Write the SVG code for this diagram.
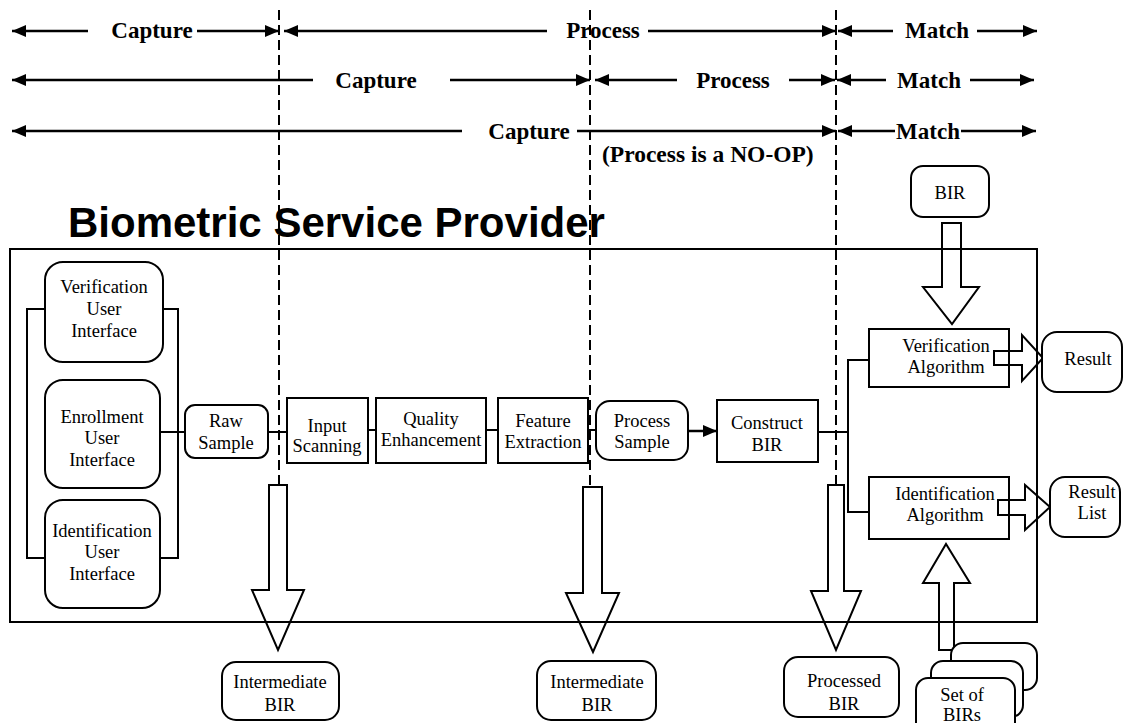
<svg xmlns="http://www.w3.org/2000/svg" width="1124" height="723" viewBox="0 0 1124 723">
<defs>
<marker id="ah" viewBox="0 0 14 12" refX="14" refY="6" markerWidth="14" markerHeight="12" markerUnits="userSpaceOnUse" orient="auto"><path d="M0,0 L14,6 L0,12 Z" fill="#000"/></marker>
<style>
.hdr{font-family:"Liberation Serif",serif;font-weight:bold;font-size:23px;fill:#000;text-anchor:middle}
.lbl{font-family:"Liberation Serif",serif;font-size:18.5px;fill:#000;text-anchor:middle}
.hl{stroke:#000;stroke-width:2.5;fill:none;marker-end:url(#ah)}
.box{fill:#fff;stroke:#000;stroke-width:2}
.ln{stroke:#000;stroke-width:2;fill:none}
.blk{fill:none;stroke:#000;stroke-width:2;stroke-linejoin:miter}
.dash{stroke:#000;stroke-width:2;stroke-dasharray:10,5;fill:none}
</style>
</defs>
<rect width="1124" height="723" fill="#fff"/>

<g id="phase-headers">
<path class="hl" d="M88,31 H12"/><path class="hl" d="M197,31 H279"/><path class="hl" d="M547,31 H284"/><path class="hl" d="M648,31 H836"/><path class="hl" d="M893,31 H838"/><path class="hl" d="M977,31 H1037"/>
<text class="hdr" x="152" y="38">Capture</text><text class="hdr" x="603" y="38">Process</text><text class="hdr" x="937" y="38">Match</text>
<path class="hl" d="M313,80 H12"/><path class="hl" d="M450,80 H590"/><path class="hl" d="M677,80 H595"/><path class="hl" d="M789,80 H835"/><path class="hl" d="M886,80 H837"/><path class="hl" d="M970,80 H1034"/>
<text class="hdr" x="376" y="88">Capture</text><text class="hdr" x="733" y="88">Process</text><text class="hdr" x="929" y="88">Match</text>
<path class="hl" d="M462,131 H12"/><path class="hl" d="M577,131 H836"/><path class="hl" d="M895,131 H838"/><path class="hl" d="M961,131 H1036"/>
<text class="hdr" x="529" y="139">Capture</text><text class="hdr" x="928" y="139">Match</text>
<text class="hdr" x="602" y="162" style="text-anchor:start;font-size:23.5px">(Process is a NO-OP)</text>
</g>

<g id="bsp">
<rect x="10" y="249" width="1027" height="373" fill="none" stroke="#000" stroke-width="2"/>
<text x="68" y="237" font-family="'Liberation Sans',Arial,sans-serif" font-weight="bold" font-size="42" fill="#000">Biometric Service Provider</text>
</g>

<g id="connectors">
<path class="ln" d="M45,309 H27 V558 H45"/>
<path class="ln" d="M163,309 H178 V558 H160"/>
<path class="ln" d="M160,432 H185"/>
<path class="ln" d="M268,432 H287"/>
<path class="ln" d="M368,430 H376"/>
<path class="ln" d="M486,430 H498"/>
<path class="ln" d="M588,430 H596"/>
<path class="ln" d="M688,431 H717" style="stroke-width:2.5;marker-end:url(#ah)"/>
<path class="ln" d="M818,432 H848 M869,360 H848 V512 H869"/>
<path class="blk" d="M942,223 H961 V287 H979 L952,324 L923,287 H942 Z"/>
<path class="blk" d="M994,351 H1022 V335 L1043,358 L1022,381 V365 H994 Z"/>
<path class="blk" d="M998,500 H1025 V485 L1050,507 L1025,530 V515 H998 Z"/>
<path class="blk" d="M269,485 H287 V590 H304 L278,650 L252,590 H269 Z"/>
<path class="blk" d="M583,487 H602 V593 H619 L593,652 L566,593 H583 Z"/>
<path class="blk" d="M828,485 H844 V591 H861 L836,650 L811,591 H828 Z"/>
<path class="blk" d="M939,650 H954 V583 H970 L946,544 L923,583 H939 Z"/>
</g>

<g id="verification-ui"><rect class="box" x="45" y="262" width="118" height="100" rx="18"/>
<text class="lbl" x="104" y="293">Verification</text><text class="lbl" x="104" y="315">User</text><text class="lbl" x="104" y="337">Interface</text></g>
<g id="enrollment-ui"><rect class="box" x="45" y="380" width="115" height="108" rx="18"/>
<text class="lbl" x="102" y="423">Enrollment</text><text class="lbl" x="102" y="444">User</text><text class="lbl" x="102" y="466">Interface</text></g>
<g id="identification-ui"><rect class="box" x="45" y="500" width="115" height="108" rx="18"/>
<text class="lbl" x="102" y="537">Identification</text><text class="lbl" x="102" y="558">User</text><text class="lbl" x="102" y="580">Interface</text></g>

<g id="raw-sample"><rect class="box" x="185" y="405" width="83" height="53" rx="10"/>
<text class="lbl" x="226" y="427">Raw</text><text class="lbl" x="226" y="449">Sample</text></g>
<g id="input-scanning"><rect class="box" x="287" y="398" width="81" height="65"/>
<text class="lbl" x="327" y="432">Input</text><text class="lbl" x="327" y="452">Scanning</text></g>
<g id="quality-enhancement"><rect class="box" x="376" y="398" width="110" height="65"/>
<text class="lbl" x="431" y="425">Quality</text><text class="lbl" x="431" y="446">Enhancement</text></g>
<g id="feature-extraction"><rect class="box" x="498" y="398" width="90" height="65"/>
<text class="lbl" x="543" y="427">Feature</text><text class="lbl" x="543" y="448">Extraction</text></g>
<g id="process-sample"><rect class="box" x="596" y="401" width="92" height="59" rx="14"/>
<text class="lbl" x="642" y="427">Process</text><text class="lbl" x="642" y="448">Sample</text></g>
<g id="construct-bir"><rect class="box" x="717" y="400" width="101" height="62"/>
<text class="lbl" x="767" y="429">Construct</text><text class="lbl" x="767" y="451">BIR</text></g>

<g id="verification-algorithm"><rect class="box" x="869" y="329" width="140" height="58" style="fill:none"/>
<text class="lbl" x="946" y="352">Verification</text><text class="lbl" x="946" y="373">Algorithm</text></g>
<g id="identification-algorithm"><rect class="box" x="869" y="477" width="140" height="62" style="fill:none"/>
<text class="lbl" x="945" y="500">Identification</text><text class="lbl" x="945" y="521">Algorithm</text></g>
<g id="result"><rect class="box" x="1042" y="332" width="80" height="60" rx="15"/>
<text class="lbl" x="1088" y="365">Result</text></g>
<g id="result-list"><rect class="box" x="1050" y="477" width="70" height="60" rx="15"/>
<text class="lbl" x="1092" y="498">Result</text><text class="lbl" x="1092" y="519">List</text></g>
<g id="bir-input"><rect class="box" x="911" y="166" width="78" height="51" rx="12"/>
<text class="lbl" x="950" y="199">BIR</text></g>

<g id="intermediate-bir-1"><rect class="box" x="222" y="662" width="117" height="58" rx="14"/>
<text class="lbl" x="280" y="688">Intermediate</text><text class="lbl" x="280" y="711">BIR</text></g>
<g id="intermediate-bir-2"><rect class="box" x="537" y="661" width="119" height="59" rx="14"/>
<text class="lbl" x="597" y="688">Intermediate</text><text class="lbl" x="597" y="711">BIR</text></g>
<g id="processed-bir"><rect class="box" x="784" y="657" width="115" height="60" rx="14"/>
<text class="lbl" x="844" y="687">Processed</text><text class="lbl" x="844" y="710">BIR</text></g>
<g id="set-of-birs">
<rect class="box" x="951" y="643" width="86" height="47" rx="12"/>
<rect class="box" x="931" y="661" width="92" height="56" rx="12"/>
<rect class="box" x="916" y="678" width="99" height="60" rx="12"/>
<text class="lbl" x="962" y="701">Set of</text><text class="lbl" x="962" y="721">BIRs</text></g>

<g id="phase-boundaries">
<path class="dash" d="M279,10 V485"/>
<path class="dash" d="M590,10 V487"/>
<path class="dash" d="M836,10 V485"/>
</g>
</svg>
